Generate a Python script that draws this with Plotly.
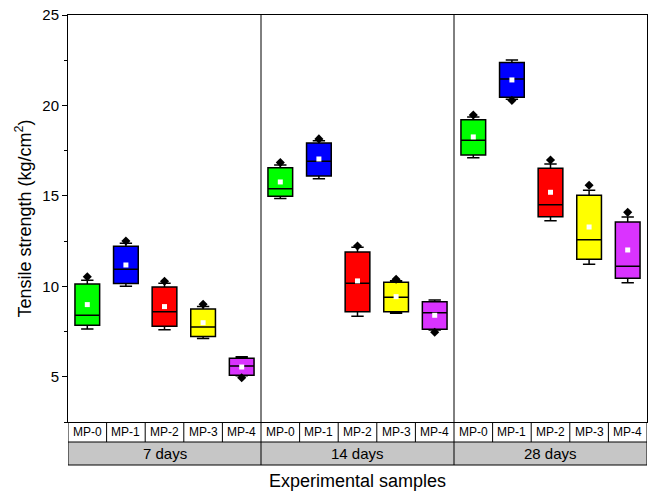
import plotly.graph_objects as go

# ---- data ----
samples = ["MP-0", "MP-1", "MP-2", "MP-3", "MP-4"]
periods = ["7 days", "14 days", "28 days"]
colors = ["#00ff00", "#0000ff", "#ff0000", "#ffff00", "#da33ff"]

upper_fence = [10.33, 12.38, 10.17, 8.88, 6.11, 16.71, 18.05, 12.16, 10.31, 9.25, 19.36, 22.51, 16.76, 15.31, 13.83]
q3_vals     = [10.13, 12.21, 9.96, 8.75, 6.02, 16.56, 17.92, 11.90, 10.22, 9.15, 19.21, 22.37, 16.53, 15.03, 13.56]
median_vals = [8.40, 10.94, 8.60, 7.75, 5.60, 15.40, 16.91, 10.17, 9.39, 8.54, 18.07, 21.46, 14.51, 12.58, 11.11]
q1_vals     = [7.85, 10.15, 7.79, 7.22, 5.08, 14.98, 16.10, 8.60, 8.60, 7.63, 17.26, 20.45, 13.85, 11.50, 10.44]
lower_fence = [7.64, 10.00, 7.60, 7.11, 5.05, 14.85, 15.95, 8.34, 8.51, 7.58, 17.11, 20.34, 13.63, 11.22, 10.20]
mean_vals   = [8.99, 11.18, 8.88, 7.99, 5.54, 15.77, 17.04, 10.30, 9.43, 8.40, 18.26, 21.41, 15.20, 13.28, 12.01]
extreme_vals = [10.53, 12.51, 10.28, 9.01, 4.95, 16.84, 18.15, 12.23, 10.39, 7.46, 19.47, 20.28, 16.98, 15.59, 14.09]

y_ticks = [5, 10, 15, 20, 25]

fig = go.Figure()
n_s = len(samples)
positions = list(range(n_s * len(periods)))

for i, pos in enumerate(positions):
    c = colors[i % n_s]
    fig.add_trace(go.Box(
        x=[pos], q1=[q1_vals[i]], median=[median_vals[i]], q3=[q3_vals[i]],
        lowerfence=[lower_fence[i]], upperfence=[upper_fence[i]],
        width=0.64, whiskerwidth=0.5,
        fillcolor=c, line=dict(color="black", width=1.5),
        showlegend=False, hoverinfo="skip",
    ))

fig.add_trace(go.Scatter(
    x=positions, y=extreme_vals, mode="markers",
    marker=dict(symbol="diamond", size=7, color="black"),
    showlegend=False, hoverinfo="skip",
))
fig.add_trace(go.Scatter(
    x=positions, y=mean_vals, mode="markers",
    marker=dict(symbol="square", size=5, color="white", line=dict(width=0)),
    showlegend=False, hoverinfo="skip",
))

# ---- table below the plot ----
plot_h = 497 - 15 - 75
r1 = -20 / plot_h
r2 = -43 / plot_h
shapes = []
n_total = len(positions)
shapes.append(dict(type="rect", xref="x", yref="paper", x0=-0.5, x1=n_total - 0.5,
                   y0=r2, y1=r1, fillcolor="#c6c6c6", line=dict(width=0), layer="below"))
for yy in [r1, r2]:
    shapes.append(dict(type="line", xref="x", yref="paper", x0=-0.5, x1=n_total - 0.5,
                       y0=yy, y1=yy, line=dict(color="black", width=1)))
for k in range(n_total + 1):
    shapes.append(dict(type="line", xref="x", yref="paper", x0=k - 0.5, x1=k - 0.5,
                       y0=r1, y1=0, line=dict(color="black", width=1)))
for k in range(len(periods) + 1):
    xx = k * n_s - 0.5
    shapes.append(dict(type="line", xref="x", yref="paper", x0=xx, x1=xx,
                       y0=r2, y1=r1, line=dict(color="black", width=1)))
    if 0 < k < len(periods):
        shapes.append(dict(type="line", xref="x", yref="paper", x0=xx, x1=xx,
                           y0=0, y1=1, line=dict(color="black", width=1)))

annotations = []
for i, pos in enumerate(positions):
    annotations.append(dict(x=pos, y=r1 / 2, xref="x", yref="paper", text=samples[i % n_s],
                            showarrow=False, font=dict(size=12, color="black"),
                            xanchor="center", yanchor="middle"))
for k, p in enumerate(periods):
    annotations.append(dict(x=k * n_s + (n_s - 1) / 2, y=(r1 + r2) / 2, xref="x", yref="paper",
                            text=p, showarrow=False, font=dict(size=15, color="black"),
                            xanchor="center", yanchor="middle"))
annotations.append(dict(x=0.5, y=(422 - 481) / plot_h, xref="paper", yref="paper",
                        text="Experimental samples", showarrow=False,
                        font=dict(size=18, color="black"), xanchor="center", yanchor="middle"))
annotations.append(dict(x=(24 - 68) / 579, y=0.5, xref="paper", yref="paper",
                        text="Tensile strength (kg/cm<sup>2</sup>)", textangle=-90, showarrow=False,
                        font=dict(size=18, color="black"), xanchor="center", yanchor="middle"))

fig.update_layout(
    width=653, height=497,
    margin=dict(l=68, r=6, t=15, b=75),
    paper_bgcolor="white", plot_bgcolor="white",
    font=dict(family="Liberation Sans, Arial, sans-serif", color="black"),
    boxmode="overlay",
    shapes=shapes, annotations=annotations,
    xaxis=dict(range=[-0.5, n_total - 0.5], showticklabels=False, ticks="",
               showgrid=False, zeroline=False, showline=True, linecolor="black",
               linewidth=1, mirror=True),
    yaxis=dict(range=[2.5, 25], tickvals=y_ticks, ticks="outside", ticklen=5,
               tickwidth=1, tickcolor="black", tickfont=dict(size=15),
               minor=dict(dtick=2.5, tick0=2.5, ticks="outside", ticklen=3, tickcolor="black"),
               showgrid=False, zeroline=False, showline=True, linecolor="black",
               linewidth=1, mirror=True),
)

fig.write_html("out.html", config={"displayModeBar": False},
               post_script="document.body.style.margin='0';document.body.style.overflow='hidden';")
